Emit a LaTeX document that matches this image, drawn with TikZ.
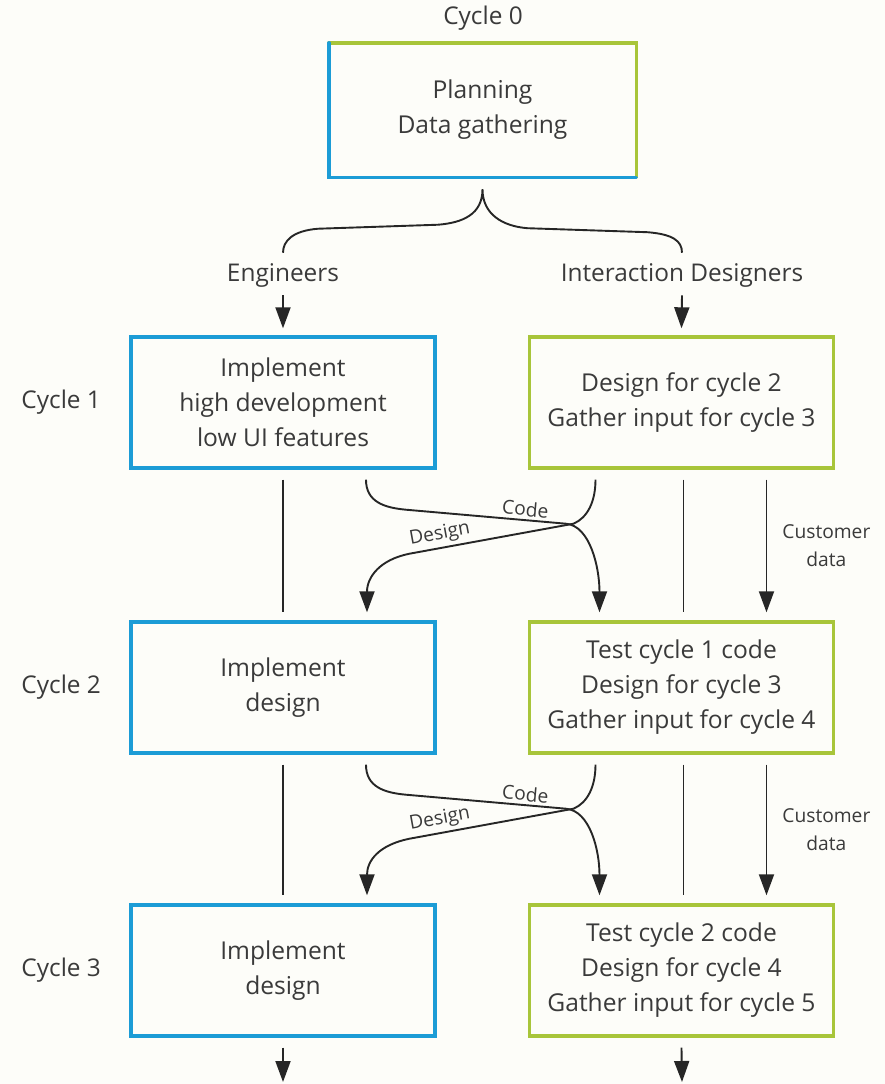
\documentclass[tikz,border=0pt]{standalone}
\usepackage{fontspec}
\setmainfont{Open Sans}
\usetikzlibrary{
  arrows.meta,
  positioning
}
\definecolor{engblue}{RGB}{28,156,214}
\definecolor{desgreen}{RGB}{168,197,58}
\definecolor{ink}{RGB}{58,58,58}
\definecolor{paper}{RGB}{253,253,249}
\tikzset{
  boxtext/.style={
    font=\fontsize{12.3}{17.5}\selectfont,
    text=ink,
    align=center
  },
  cyclebox/.style={
    boxtext,
    minimum width=152pt,
    minimum height=65.5pt,
    line width=1.7pt,
    line cap=round,
    inner sep=2pt
  },
  engbox/.style={cyclebox, draw=engblue},
  desbox/.style={cyclebox, draw=desgreen},
  rowlabel/.style={font=\fontsize{12.2}{14}\selectfont, text=ink, inner sep=1pt},
  smalllabel/.style={font=\fontsize{9.6}{14}\selectfont, text=ink, inner sep=1.5pt, align=center},
  link/.style={draw=black!85, line width=0.95pt},
  flow/.style={link, -{Triangle[length=10.5pt,width=7.5pt]}}
}

\begin{document}
\begin{tikzpicture}[x=0.5pt, y=-0.5pt]
  \fill[paper] (0,0) rectangle (885,1084);
  \useasboundingbox (0,0) rectangle (885,1084);

  % cycle 0
  \node[rowlabel] (c0) at (483,18) {Cycle 0};
  \node[cyclebox] (plan) at (482.5,110) {Planning\\Data gathering};
  \draw[desgreen, line width=1.7pt, line cap=round] (plan.north west) -- (plan.north east) -- (plan.south east);
  \draw[engblue, line width=1.7pt, line cap=round] (plan.north west) -- (plan.south west) -- (plan.south east);

  \node[rowlabel] (engl) at (283,275) {Engineers};
  \node[rowlabel] (idl) at (682,275) {Interaction Designers};

  % the brace
  \draw[link] ([yshift=4pt]engl.north) .. controls +(0,-12) and +(-25,2) .. ++(35,-24)
    -- ++(120,-4) .. controls +(25,-2) and +(0,25) .. ([yshift=-6pt]plan.south)
    .. controls +(0,25) and +(-25,-2) .. ++(45,39)
    -- ++(120,4) .. controls +(25,2) and +(0,-12) .. ([yshift=4pt]idl.north);

  % cycles
  \node[engbox] (e1) at (283,402.5) {Implement\\high development\\low UI features};
  \node[desbox] (d1) at (681.5,402.5) {Design for cycle 2\\Gather input for cycle 3};
  \node[engbox] (e2) at (283,687.5) {Implement\\design};
  \node[desbox] (d2) at (681.5,687.5) {Test cycle 1 code\\Design for cycle 3\\Gather input for cycle 4};
  \node[engbox] (e3) at (283,970.5) {Implement\\design};
  \node[desbox] (d3) at (681.5,970.5) {Test cycle 2 code\\Design for cycle 4\\Gather input for cycle 5};

  \node[rowlabel, left=13pt of e1] (c1) {Cycle 1};
  \node[rowlabel, left=13pt of e2] (c2) {Cycle 2};
  \node[rowlabel, left=13pt of e3] (c3) {Cycle 3};

  \draw[flow] ([yshift=-3pt]engl.south) -- ([yshift=3.5pt]e1.north);
  \draw[flow] ([yshift=-3pt]idl.south) -- ([yshift=3.5pt]d1.north);

  \foreach \a/\b in {1/2,2/3}{
    \draw[link] ([yshift=-5pt]e\a.south) -- ([yshift=4pt]e\b.north);
    \draw[link] ([xshift=1pt,yshift=-5pt]d\a.south) -- ([xshift=1pt,yshift=4pt]d\b.north);
    \draw[flow] ([xshift=41.5pt,yshift=-5pt]e\a.south) .. controls +(0,22) and +(-22,-2) .. ++(40,30)
      -- ++(160,14) node[smalllabel, pos=0.74, above, sloped] {Code}
      .. controls +(24,2) and +(0,-45) .. ([xshift=-41pt,yshift=4pt]d\b.north);
    \draw[flow] ([xshift=-43pt,yshift=-5pt]d\a.south) .. controls +(0,22) and +(14,-6) .. ++(-22,44)
      -- ++(-164,30) node[smalllabel, pos=0.8, above, sloped] {Design}
      .. controls +(-30,6) and +(0,-35) .. ([xshift=42pt,yshift=4pt]e\b.north);
    \draw[flow] ([xshift=42.5pt,yshift=-5pt]d\a.south) -- node[smalllabel, right=6pt] {Customer\\data} ([xshift=42.5pt,yshift=4pt]d\b.north);
  }

  \coordinate (eend) at (283,1082);
  \coordinate (dend) at (682,1082);
  \draw[flow] ([yshift=-5pt]e3.south) -- (eend);
  \draw[flow] ([yshift=-5pt]d3.south) -- (dend);
\end{tikzpicture}
\end{document}
